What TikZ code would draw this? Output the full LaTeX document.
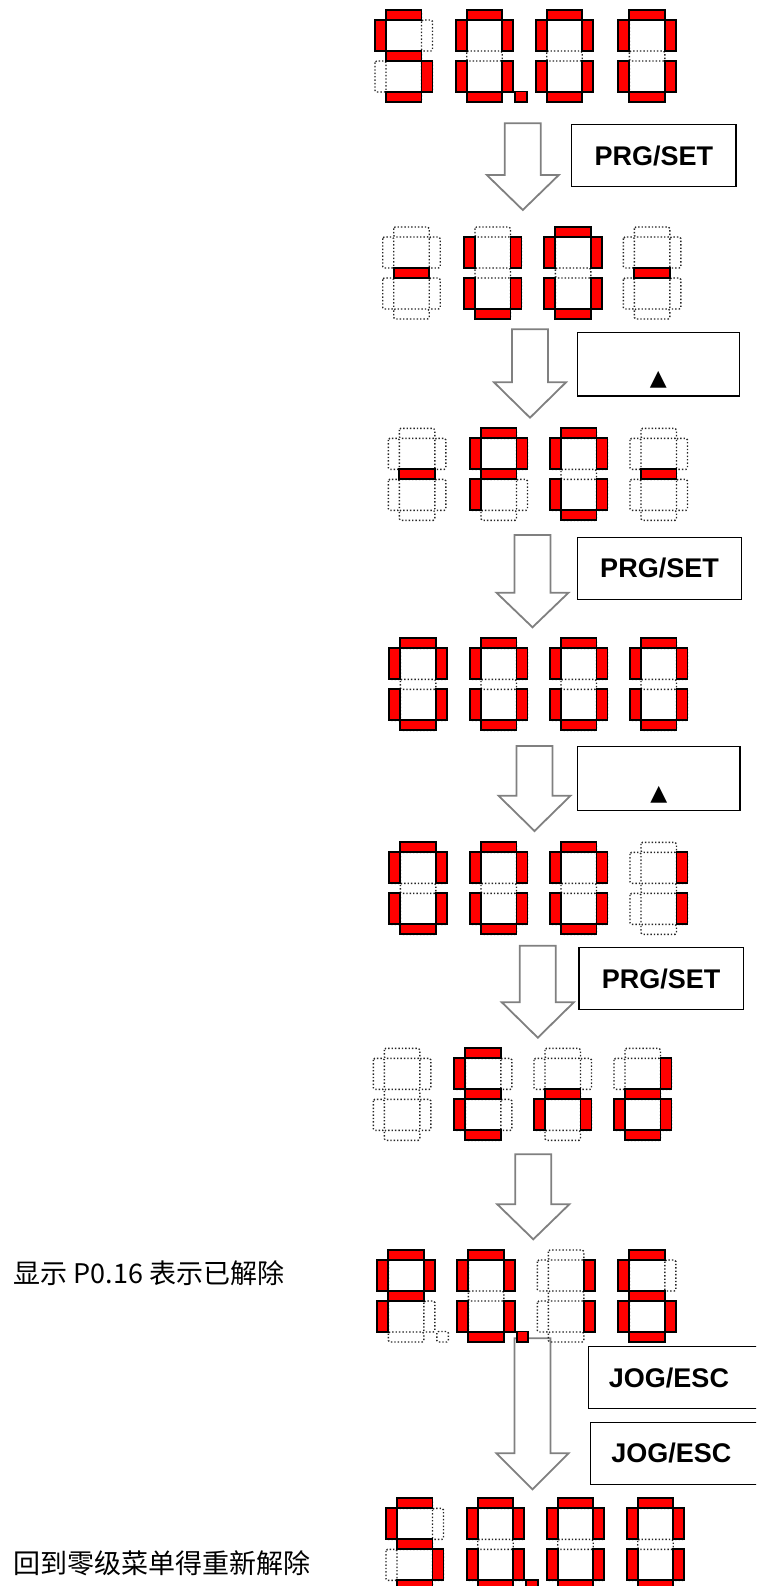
\documentclass[tikz,border=0pt]{standalone}
\usepackage{fontspec}
\usepackage{tikz}
\newfontfamily\keyfont{Liberation Sans}
\newfontfamily\symfont{DejaVu Sans}
\newfontfamily\cjkfont{Noto Sans CJK SC}

\tikzset{
	segon/.style={fill=red, draw=black, line width=1.8pt},
	segoff/.style={draw=black!85, dotted, line width=1.4pt, rounded corners=1.5pt},
	keybox/.style={draw, line width=1.3pt, inner sep=0pt, minimum height=62, font=\keyfont\bfseries\fontsize{27}{30}\selectfont},
	upkey/.style={keybox, text height=45, text depth=2, font=\symfont\fontsize{22}{22}\selectfont},
	notetext/.style={inner sep=0pt, anchor=west, font=\cjkfont\fontsize{27}{30}\selectfont},
	hollow/.style={draw=black!50, fill=white, line width=1.8pt},
}

\def\segtable{a/11/0/46.5/10, b/46.5/10/57.5/41, c/46.5/51/57.5/82, d/11/82/46.5/92, e/0/51/11/82, f/0/10/11/41, g/11/41/46.5/51}

\makeatletter
\newcommand{\leddigit}[3]{%
	\edef\ledspec{#3}%
	\begin{scope}[shift={(#1,#2)}]
		\foreach \s/\xa/\ya/\xb/\yb in \segtable
			{\draw[segoff] (\xa,\ya) rectangle (\xb,\yb);}
		\foreach \s/\xa/\ya/\xb/\yb in \segtable
			{\edef\ledtest{\noexpand\in@{\s}{\ledspec}}\ledtest
			\ifin@\draw[segon] (\xa,\ya) rectangle (\xb,\yb);\fi}
		\edef\ledtest{\noexpand\in@{q}{\ledspec}}\ledtest
		\ifin@\draw[segoff] (59.5,81.5) rectangle (71,92);\fi
		\edef\ledtest{\noexpand\in@{p}{\ledspec}}\ledtest
		\ifin@\draw[segon] (59.5,81.5) rectangle (71,92);\fi
	\end{scope}}
\newcommand{\blockdown}[4]{%
	\draw[hollow] (#1-18,#2) -- (#1+18,#2) -- (#1+18,#3) -- (#1+36,#3) -- (#1,#4) -- (#1-36,#3) -- (#1-18,#3) -- cycle;}
\makeatother

\begin{document}
\begin{tikzpicture}[x=1pt, y=-1pt]
			\useasboundingbox (0,0) rectangle (756,1586);
			\clip (0,0) rectangle (756,1586);
			
			\blockdown{522.8}{123.3}{175}{210}
			\blockdown{530}{329.3}{382.3}{417.7}
			\blockdown{532.5}{535}{592.7}{627.3}
			\blockdown{534.5}{746}{795.7}{831}
			\blockdown{537.8}{945.7}{1002.3}{1037.7}
			\blockdown{533.3}{1154.3}{1204.3}{1239.3}
			\blockdown{532.5}{1338.3}{1453.3}{1489.3}
			
			\foreach \dx/\dspec in {375/acdfg, 455.7/abcdefp, 535.7/abcdef, 618.3/abcdef} {\leddigit{\dx}{10}{\dspec}}
			\foreach \dx/\dspec in {382.7/g, 464/bcdef, 544.3/abcdef, 623.3/g} {\leddigit{\dx}{227}{\dspec}}
			\foreach \dx/\dspec in {388.3/g, 470/abefg, 550/abcdef, 630/g} {\leddigit{\dx}{428.3}{\dspec}}
			\foreach \dx/\dspec in {389.3/abcdef, 470/abcdef, 550/abcdef, 630/abcdef} {\leddigit{\dx}{638.3}{\dspec}}
			\foreach \dx/\dspec in {389.3/abcdef, 470/abcdef, 550/abcdef, 630/bc} {\leddigit{\dx}{842.3}{\dspec}}
			\foreach \dx/\dspec in {373.3/-, 454.3/adefg, 534/ceg, 614/bcdeg} {\leddigit{\dx}{1048.3}{\dspec}}
			\foreach \dx/\dspec in {377.3/abefgq, 457.3/abcdefp, 537.3/bc, 618.3/acdefg} {\leddigit{\dx}{1250}{\dspec}}
			\foreach \dx/\dspec in {386/acdfg, 466.7/abcdefp, 546.7/abcdef, 626.7/abcdef} {\leddigit{\dx}{1498.3}{\dspec}}
			
			\node[keybox, minimum width=164.3] (key1) at (653.9,155.7) {PRG/SET};
			\node[upkey, minimum width=162, minimum height=63.7] (key2) at (658.3,364.2) {▲};
			\node[keybox, minimum width=164.4] (key3) at (659.5,568.2) {PRG/SET};
			\node[upkey, minimum width=162.7, minimum height=64] (key4) at (658.7,778.7) {▲};
			\node[keybox, minimum width=164.3] (key5) at (661.2,978.7) {PRG/SET};
			\node[keybox, anchor=west, text width=170, inner xsep=20.6, align=left] (key6) at (587.7,1377.5) {JOG/ESC};
			\node[keybox, anchor=west, text width=170, inner xsep=20.7, align=left] (key7) at (590,1453.3) {JOG/ESC};
			
			\node[notetext] (note1) at (13.3,1273.3) {显示 P0.16 表示已解除};
			\node[notetext] (note2) at (13.3,1563.3) {回到零级菜单得重新解除};
		\end{tikzpicture}
\end{document}
